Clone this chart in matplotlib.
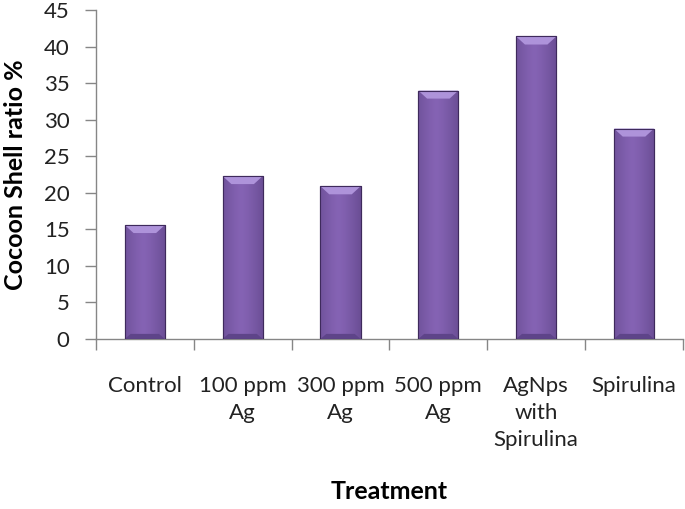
import numpy as np
from matplotlib import pyplot as plt
from matplotlib.patches import Polygon as MplPolygon

tratamientos = ['Control', '100 ppm\nAg', '300 ppm\nAg', '500 ppm\nAg',
                'AgNps\nwith\nSpirulina', 'Spirulina']
valores = [15.6, 22.3, 20.9, 34.0, 41.4, 28.8]

plt.rcParams['font.family'] = ['Lato', 'DejaVu Sans']

fig = plt.figure(figsize=(6.85, 5.09), dpi=100)
ax = fig.add_axes([0.140, 0.334, 0.857, 0.646])

x = np.arange(len(valores))
ancho = 0.41
barras = ax.bar(x, valores, width=ancho, color='#7658A0',
                edgecolor='#3E2A5C', linewidth=0.8, zorder=2)

# degradado horizontal dentro de cada barra
grad = np.linspace(0, 1, 64)
perfil = 1 - 0.55 * np.abs(grad - 0.45) ** 1.3 * 2
img = np.zeros((2, 64, 3))
base = np.array([0x85, 0x63, 0xB4]) / 255
oscuro = np.array([0x50, 0x39, 0x76]) / 255
for i in range(64):
    t = np.clip(perfil[i], 0, 1)
    img[:, i, :] = oscuro + (base - oscuro) * t
for b in barras:
    x0, y0 = b.get_x(), b.get_y()
    w, h = b.get_width(), b.get_height()
    im = ax.imshow(img, extent=[x0, x0 + w, y0, y0 + h], aspect='auto',
                   zorder=2.5, interpolation='bilinear')
    im.set_clip_path(b)
    # bisel superior
    d = 1.1
    tri = MplPolygon([[x0, y0 + h], [x0 + w, y0 + h],
                      [x0 + w - 0.09, y0 + h - d], [x0 + 0.09, y0 + h - d]],
                     closed=True, facecolor='#AE93DA', edgecolor='none', zorder=3)
    ax.add_patch(tri)
    bot = MplPolygon([[x0, y0], [x0 + w, y0],
                      [x0 + w - 0.06, y0 + 0.7], [x0 + 0.06, y0 + 0.7]],
                     closed=True, facecolor='#5E4489', edgecolor='none', zorder=3)
    ax.add_patch(bot)
    ax.add_patch(plt.Rectangle((x0, y0), w, h, fill=False,
                               edgecolor='#3E2A5C', linewidth=0.8, zorder=3.5))

ax.set_xlim(-0.5, len(valores) - 0.5)
ax.set_ylim(0, 45)
ax.set_yticks(range(0, 46, 5))
ax.set_xticks(np.arange(-0.5, len(valores), 1))
ax.set_xticklabels([])
ax.set_xticks(x, minor=True)
ax.set_xticklabels(tratamientos, minor=True, fontsize=16, color='#222222',
                   linespacing=1.42, va='top')
ax.tick_params(axis='x', which='major', length=8, color='#868686', width=1)
ax.tick_params(axis='x', which='minor', length=0, pad=27)
ax.tick_params(axis='y', length=8, color='#868686', width=1, labelsize=16,
               labelcolor='#222222', pad=11)

for lado in ['top', 'right']:
    ax.spines[lado].set_visible(False)
for lado in ['left', 'bottom']:
    ax.spines[lado].set_color('#868686')
    ax.spines[lado].set_linewidth(1)

ax.set_ylabel('Cocoon Shell ratio %', fontsize=18, fontweight='bold')
ax.yaxis.set_label_coords(-0.118, 0.5)
fig.text(0.568, 0.020, 'Treatment', fontsize=18, fontweight='bold', ha='center')

fig.savefig('out.png', dpi=100)
